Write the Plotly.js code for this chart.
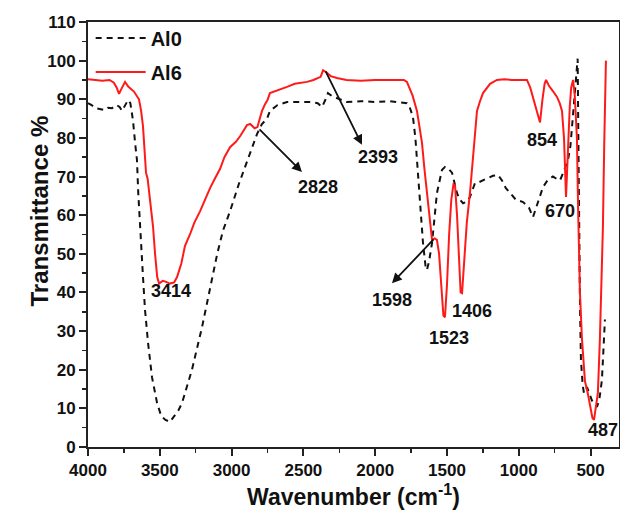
<!DOCTYPE html>
<html>
<head>
<meta charset="utf-8">
<script src="https://cdn.plot.ly/plotly-3.0.1.min.js"></script>
<style>
html,body{margin:0;padding:0;background:#fff;}
#chart{width:620px;height:511px;}
</style>
</head>
<body>
<div id="chart"></div>
<script>
// Al0 (black dashed)
const al0Wavenumber = [4000,3975,3951,3920,3882,3860,3833,3800,3780,3763,3740,3721,3705,3687,3670,3659,3650,3638,3617,3603,3582,3554,3519,3490,3460,3429,3400,3370,3345,3276,3206,3136,3100,3060,3011,2950,2893,2850,2823,2790,2753,2733,2680,2614,2454,2400,2370,2345,2329,2300,2266,2200,2100,2000,1900,1779,1760,1737,1720,1709,1688,1667,1650,1640,1625,1604,1585,1570,1535,1514,1490,1465,1430,1410,1388,1360,1340,1305,1291,1250,1221,1180,1145,1117,1090,1061,1020,970,930,901,880,860,831,800,762,740,713,690,657,640,630,615,602,590,585,581,573,567,555,546,525,510,490,456,440,421,410,400];
const al0Transmittance = [89,88.5,87.7,87.5,87.2,87.8,87.7,88.5,88,87,88.5,89.8,89,84.6,78,74.3,65.7,57,44,35.5,27,18,11.4,8,7,6.5,8,9.5,11.4,20,31,44,50,56,61,68,74,78,81,83.5,85,87,88.5,89.3,89.3,89,88,90,91.6,90.8,90.3,89.3,89.5,89.3,89.5,89,88,85.4,80,74.3,65.7,52.8,47,45.8,48,52.8,60,65.7,71.7,72.5,72,71,65.7,64,63.1,63.5,64.7,68.3,68.3,69,69.6,70.2,70.4,69,67,65.7,64,63.4,62,59.5,62,64,67.3,69,70,69.5,69,71,74.3,78,82.8,90,97,100.5,80,57,35,22.5,16,14,15.5,14,12,10.4,12,17.3,26,33];

// Al6 (red solid)
const al6Wavenumber = [4000,3950,3900,3850,3820,3800,3784,3770,3742,3720,3680,3645,3630,3617,3605,3596,3585,3568,3547,3533,3518,3505,3480,3460,3430,3400,3380,3350,3325,3290,3260,3220,3180,3150,3116,3080,3050,3011,2970,2940,2893,2870,2840,2820,2800,2788,2770,2750,2733,2700,2660,2614,2560,2520,2475,2430,2380,2363,2340,2310,2266,2200,2100,2000,1900,1800,1779,1740,1709,1690,1674,1657,1640,1620,1604,1585,1570,1555,1540,1525,1514,1500,1485,1470,1455,1444,1430,1415,1405,1395,1380,1362,1340,1320,1291,1270,1249,1200,1152,1100,1050,1000,943,920,901,880,865,852,835,820,810,790,760,734,715,699,685,676,671,665,657,645,635,622,610,600,595,587,580,574,560,548,539,520,500,487,476,465,449,435,425,414,405,398,393];
const al6Transmittance = [95.2,95,94.8,95,94.3,93,91.4,92.5,94.5,93.3,92,90,87,83,77,71,69.5,64,57,50,44,42.3,43,42.8,42.3,42.6,44,47.5,52,55,58,61,64.5,67,69.5,72,75,77.6,79,80.5,83.3,83.6,82.5,82.8,85.5,87,88.5,89.8,91.6,92,92.5,93.2,94,94.2,94.5,95,95.8,97.5,97,96,95.5,95,94.8,95,95,95,94.5,91,87,83,78.7,72,65.7,59,53.6,54,53.6,50,42,34,33.6,42,55,64,68,67.8,60,46,40,39.8,48,58,65.7,75,87,89.5,91.6,94,95,95.2,95,95,95,93,90.6,88,86,84,90,94,95,93.5,92,90.6,89,87,80,70,64.7,70,78.7,88,93,95,91,85,80,62,50,40,28,20,17,14,10,7.5,7,10,14,28,42,57,78,92,100];

const seriesNames = ["Al0", "Al6"];
const xTickValues = [4000,3500,3000,2500,2000,1500,1000,500];
const yTickValues = [0,10,20,30,40,50,60,70,80,90,100,110];

// peak labels: [text, wavenumber, transmittance]
const peakLabels = [
  ["3414", 3422, 40.4],
  ["2828", 2398, 67.3],
  ["2393", 1980, 75.0],
  ["1598", 1883, 38.0],
  ["1523", 1486, 28.2],
  ["1406", 1326, 35.2],
  ["854", 838, 79.5],
  ["670", 713, 61.0],
  ["487", 414, 4.4]
];
// arrows: [tail wavenumber, tail T, head wavenumber, head T]
const peakArrows = [
  [2816, 82.6, 2510, 71.2],
  [2350, 97.6, 2092, 78.2],
  [1584, 54.1, 1883, 42.4]
];

const FONT = 'Arial, "Liberation Sans", Helvetica, sans-serif';

const traces = [
  {x: al0Wavenumber, y: al0Transmittance, name: seriesNames[0], type: 'scatter', mode: 'lines',
   legendgroup: 'a', line: {color: '#111', width: 2, dash: '6px,5px'}},
  {x: al6Wavenumber, y: al6Transmittance, name: seriesNames[1], type: 'scatter', mode: 'lines',
   legendgroup: 'b', line: {color: '#ff1a1a', width: 2}}
];

const annotations = [];
peakLabels.forEach(p => annotations.push({
  x: p[1], y: p[2], xref: 'x', yref: 'y', text: p[0], showarrow: false,
  font: {family: FONT, size: 18, color: '#111', weight: 'bold'}
}));
peakArrows.forEach(a => annotations.push({
  x: a[2], y: a[3], ax: a[0], ay: a[1], xref: 'x', yref: 'y', axref: 'x', ayref: 'y',
  text: '', showarrow: true, arrowhead: 2, arrowsize: 1.1, arrowwidth: 1.8, arrowcolor: '#111', standoff: 0
}));
annotations.push({
  xref: 'paper', yref: 'paper', x: (23 - 88) / 531, y: (447 - 211) / 425,
  text: 'Transmittance %', textangle: -90, showarrow: false,
  font: {family: FONT, size: 24, color: '#111', weight: 'bold'}
});

const axisCommon = {
  showline: true, linewidth: 2, linecolor: '#222', mirror: true,
  showgrid: false, zeroline: false,
  ticks: 'outside', ticklen: 7, tickwidth: 2, tickcolor: '#222',
  tickfont: {family: FONT, size: 17, color: '#111', weight: 'bold'}
};

const layout = {
  width: 620, height: 511,
  margin: {l: 88, r: 1, t: 22, b: 64},
  paper_bgcolor: '#fff', plot_bgcolor: '#fff',
  showlegend: true,
  legend: {x: 0.005, y: 1.008, xanchor: 'left', yanchor: 'top', bgcolor: 'rgba(0,0,0,0)',
           borderwidth: 0, tracegroupgap: 5, traceorder: 'grouped', itemwidth: 50,
           font: {family: FONT, size: 20, color: '#111', weight: 'bold'}},
  xaxis: Object.assign({}, axisCommon, {
    range: [4000, 302], autorange: false,
    tickmode: 'array', tickvals: xTickValues, ticktext: xTickValues.map(String),
    minor: {ticks: 'outside', ticklen: 4, tickwidth: 1.5, tickcolor: '#222', dtick: 250, tick0: 0},
    title: {text: 'Wavenumber (cm<sup>-1</sup>)', standoff: 2,
            font: {family: FONT, size: 23, color: '#111', weight: 'bold'}}
  }),
  yaxis: Object.assign({}, axisCommon, {
    range: [0, 110], autorange: false,
    tickmode: 'array', tickvals: yTickValues, ticktext: yTickValues.map(String),
    minor: {ticks: 'outside', ticklen: 4, tickwidth: 1.5, tickcolor: '#222', dtick: 5, tick0: 0}
  }),
  annotations: annotations
};

Plotly.newPlot('chart', traces, layout, {displayModeBar: false, staticPlot: true});
</script>
</body>
</html>
